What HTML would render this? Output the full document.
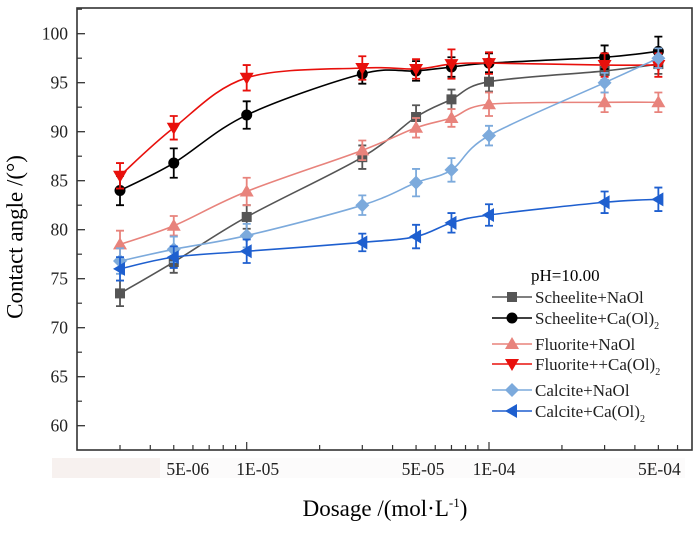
<!DOCTYPE html>
<html><head><meta charset="utf-8"><style>
body{margin:0;background:#fff}
svg{display:block;font-family:"Liberation Serif",serif}
</style></head><body>
<svg id="chart" width="700" height="542" viewBox="0 0 700 542">
<rect x="52" y="458" width="108" height="20" fill="#f7f1ef"/>
<rect x="160" y="458" width="525" height="20" fill="#fcfbfb"/>
<g id="grid"></g>
<g id="series"></g>
<rect x="77" y="8" width="615" height="442" fill="none" stroke="#333" stroke-width="1.6"/>
<text x="15" y="237" transform="rotate(-90 15 237)" text-anchor="middle" dominant-baseline="central" font-size="23">Contact angle /(°)</text>
<text x="385" y="516" text-anchor="middle" font-size="23">Dosage /(mol·L<tspan dy="-9" font-size="13">-1</tspan><tspan dy="9">)</tspan></text>
<g id="legend" font-size="17">
<text x="531" y="281">pH=10.00</text>
</g>
</svg>
<script>
const xVals=[3e-6,5e-6,1e-5,3e-5,5e-5,7e-5,1e-4,3e-4,5e-4];
const scheeliteNaOl=[73.5,76.7,81.3,87.4,91.5,93.3,95.1,96.2,96.9];
const scheeliteCaOl=[84.0,86.8,91.7,95.9,96.2,96.6,97.0,97.6,98.2];
const fluoriteNaOl=[78.5,80.4,83.9,88.1,90.4,91.4,92.8,93.0,93.0];
const fluoriteCaOl=[85.5,90.4,95.5,96.5,96.4,96.9,97.0,96.8,96.8];
const calciteNaOl=[76.8,78.0,79.4,82.5,84.8,86.1,89.6,95.0,97.5];
const calciteCaOl=[76.0,77.2,77.8,78.7,79.3,80.7,81.5,82.8,83.1];
const errScheeliteNaOl=[1.3,1.1,1.2,1.2,1.2,1.0,1.0,0.9,1.0];
const errScheeliteCaOl=[1.5,1.5,1.4,1.0,1.0,1.0,1.0,1.2,1.5];
const errFluoriteNaOl=[1.4,1.0,1.4,1.0,1.0,0.9,1.2,1.0,1.0];
const errFluoriteCaOl=[1.3,1.2,1.3,1.2,1.0,1.5,1.1,1.2,1.2];
const errCalciteNaOl=[1.3,1.3,1.2,1.0,1.4,1.2,1.0,1.0,1.0];
const errCalciteCaOl=[1.2,1.1,1.2,0.9,1.2,1.0,1.1,1.1,1.2];
const yTicks=[60,65,70,75,80,85,90,95,100];
const xTickVals=[5e-6,1e-5,5e-5,1e-4,5e-4];
const xTickLabels=["5E-06","1E-05","5E-05","1E-04","5E-04"];
const seriesNames=["Scheelite+NaOl","Scheelite+Ca(Ol)","Fluorite+NaOl","Fluorite++Ca(Ol)","Calcite+NaOl","Calcite+Ca(Ol)"];

const NS="http://www.w3.org/2000/svg";
function X(v){return 246.7+(Math.log10(v)+5)*242.3;}
function Y(v){return 33.7+(100-v)*9.8;}
function mk(tag,attrs,parent){const e=document.createElementNS(NS,tag);for(const k in attrs)e.setAttribute(k,attrs[k]);parent.appendChild(e);return e;}
const grid=document.getElementById('grid');
yTicks.forEach(t=>{
  const l=mk('line',{x1:77,x2:85,y1:Y(t),y2:Y(t),stroke:'#333','stroke-width':1.3},grid);
  
  
  const m=mk('line',{x1:77,x2:82,y1:Y(t+2.5),y2:Y(t+2.5),stroke:'#333','stroke-width':1.2},grid);
  
  
  const tx=mk('text',{x:68,y:Y(t)+6,'text-anchor':'end','font-size':17.5,fill:'#222'},grid);
  tx.textContent=t;
  
  
});
for(let d=-6;d<=-4;d++){for(let k=1;k<=9;k++){const v=k*Math.pow(10,d);const x=X(v);if(x<80||x>690)continue;
  const len=(k===1)?8:5;
  const l=mk('line',{x1:x,x2:x,y1:450,y2:450-len,stroke:'#333','stroke-width':1.2},grid);
  
  
}}
const labelOffsets=[14,11,7,5,1];
xTickVals.forEach((v,i)=>{
  const tx=mk('text',{x:X(v)+labelOffsets[i],y:475,'text-anchor':'middle','font-size':17.5,fill:'#222'},grid);
  tx.textContent=xTickLabels[i];
  
  
});
function marker(g,type,x,y,c){
  let e;
  if(type==='square')e=mk('rect',{x:x-5,y:y-5,width:10,height:10,fill:c},g);
  else if(type==='circle')e=mk('circle',{cx:x,cy:y,r:5.5,fill:c},g);
  else if(type==='up')e=mk('polygon',{points:`${x-7},${y+5} ${x+7},${y+5} ${x},${y-7}`,fill:c},g);
  else if(type==='down')e=mk('polygon',{points:`${x-7},${y-5} ${x+7},${y-5} ${x},${y+7}`,fill:c},g);
  else if(type==='diamond')e=mk('polygon',{points:`${x},${y-7} ${x+7},${y} ${x},${y+7} ${x-7},${y}`,fill:c},g);
  else e=mk('polygon',{points:`${x-7},${y} ${x+5},${y-7} ${x+5},${y+7}`,fill:c},g);
  return e;
}
function smooth(pts){let d=`M${pts[0][0]},${pts[0][1]}`;
  for(let i=0;i<pts.length-1;i++){const p0=pts[Math.max(0,i-1)],p1=pts[i],p2=pts[i+1],p3=pts[Math.min(pts.length-1,i+2)];
    const c1=[p1[0]+(p2[0]-p0[0])/6,p1[1]+(p2[1]-p0[1])/6],c2=[p2[0]-(p3[0]-p1[0])/6,p2[1]-(p3[1]-p1[1])/6];
    d+=` C${c1[0]},${c1[1]} ${c2[0]},${c2[1]} ${p2[0]},${p2[1]}`;}
  return d;}
const allSeries=[
 {vals:scheeliteNaOl,err:errScheeliteNaOl,c:'#555555',m:'square',n:'scheelite-naol'},
 {vals:scheeliteCaOl,err:errScheeliteCaOl,c:'#000000',m:'circle',n:'scheelite-caol2'},
 {vals:fluoriteNaOl,err:errFluoriteNaOl,c:'#e8837c',m:'up',n:'fluorite-naol'},
 {vals:fluoriteCaOl,err:errFluoriteCaOl,c:'#e8100c',m:'down',n:'fluorite-caol2'},
 {vals:calciteNaOl,err:errCalciteNaOl,c:'#7caadc',m:'diamond',n:'calcite-naol'},
 {vals:calciteCaOl,err:errCalciteCaOl,c:'#1e5fcf',m:'left',n:'calcite-caol2'}];
const sg=document.getElementById('series');
const lg=document.getElementById('legend');
const legY=[297,318,344,364,390,411];
allSeries.forEach((s,si)=>{
  const g=mk('g',{},sg);
  
  
  const pts=s.vals.map((v,i)=>[X(xVals[i]),Y(v)]);
  const p=mk('path',{d:smooth(pts),fill:'none',stroke:s.c,'stroke-width':1.6},g);
  
  
  s.vals.forEach((v,i)=>{
    const x=X(xVals[i]),y1=Y(v+s.err[i]),y2=Y(v-s.err[i]);
    const e=mk('path',{d:`M${x},${y1}V${y2}M${x-4},${y1}H${x+4}M${x-4},${y2}H${x+4}`,stroke:s.c,'stroke-width':1.8,fill:'none'},g);
    
    
    const mkr=marker(g,s.m,x,Y(v),s.c);
    
    
  });
  const ly=legY[si];
  const ll=mk('line',{x1:492,x2:532,y1:ly,y2:ly,stroke:s.c,'stroke-width':1.6},lg);
  
  
  const lm=marker(lg,s.m,512,ly,s.c);
  
  
  const t=mk('text',{x:535,y:ly+6,fill:'#222'},lg);
  t.textContent=seriesNames[si];
  if(s.n.endsWith('caol2')){const ts=mk('tspan',{dy:5,'font-size':10},t);ts.textContent='2';}
  
  
});
</script>
</body></html>
